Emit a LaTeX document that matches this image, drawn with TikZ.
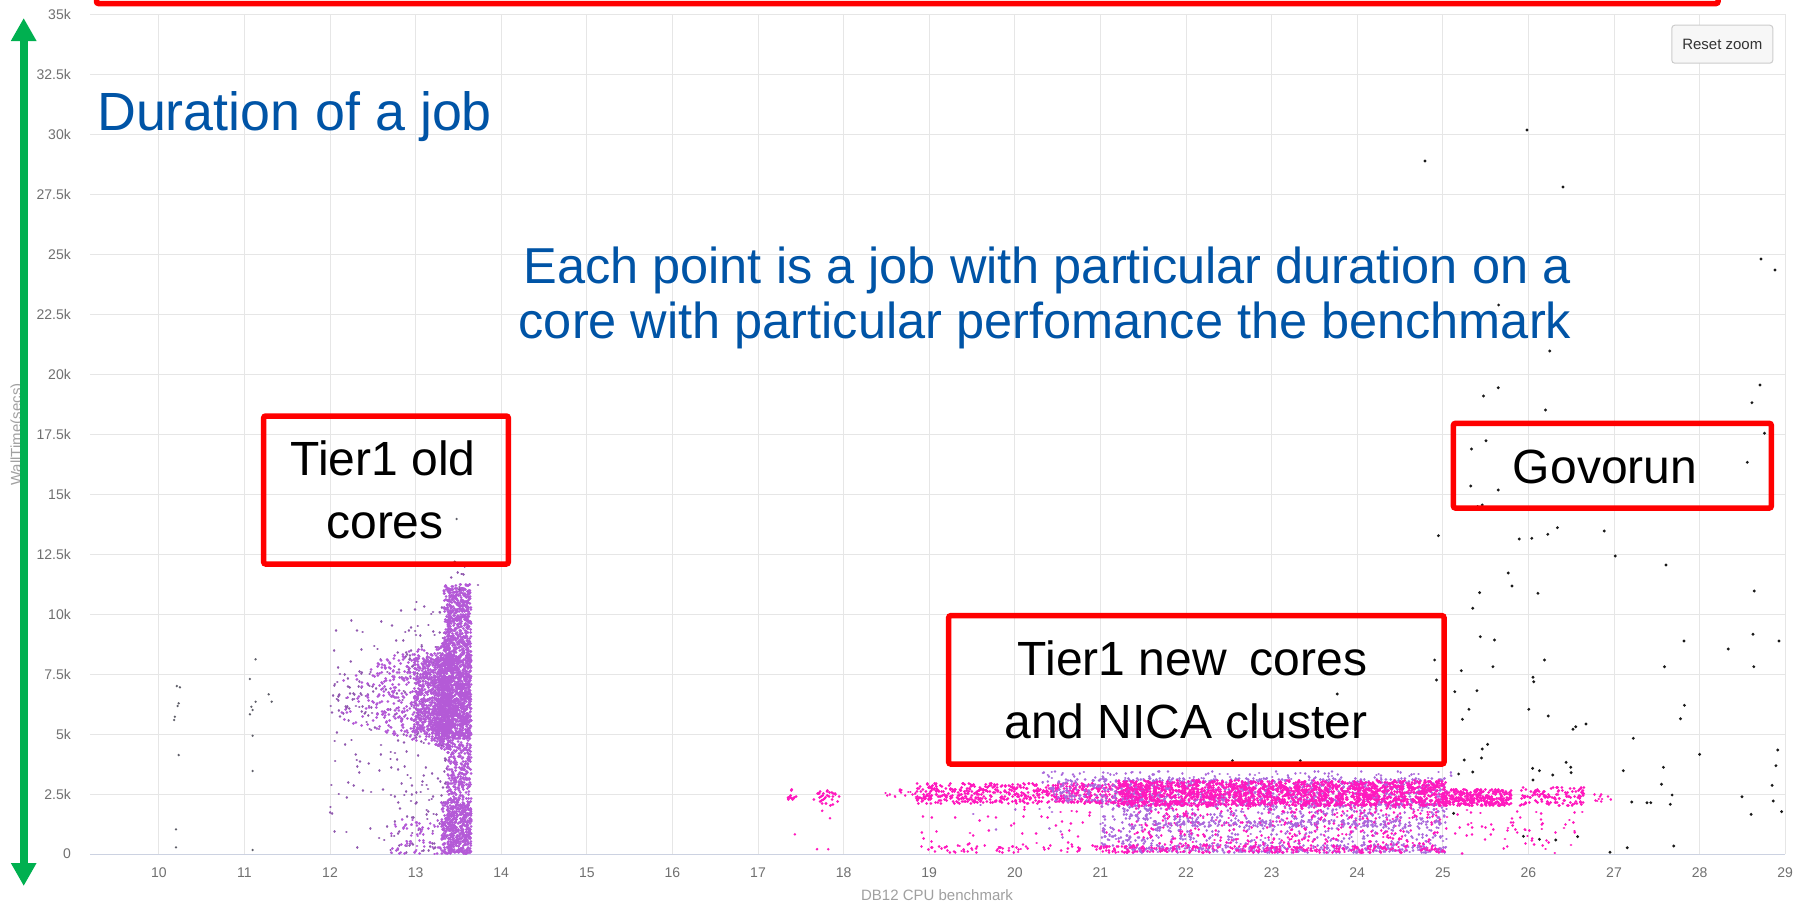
\documentclass[tikz,border=0pt]{standalone}
\usepackage{fontspec}
\setmainfont{Liberation Sans}
\usetikzlibrary{arrows.meta}

\definecolor{gridc}{RGB}{230,230,230}
\definecolor{axisc}{RGB}{204,210,225}
\definecolor{tickc}{RGB}{112,112,112}
\definecolor{titlec}{RGB}{160,160,160}
\definecolor{boxred}{RGB}{255,0,0}
\definecolor{arrowgreen}{RGB}{0,176,80}
\definecolor{noteblue}{RGB}{0,84,166}
\definecolor{oldpurp}{RGB}{180,90,215}
\definecolor{oldpurpdk}{RGB}{145,90,175}
\definecolor{newpink}{RGB}{255,25,190}
\definecolor{newlav}{RGB}{170,105,220}
\definecolor{govdot}{RGB}{25,25,25}
\definecolor{straydot}{RGB}{95,95,105}
\definecolor{btnfill}{RGB}{247,247,247}
\definecolor{btnline}{RGB}{204,204,204}
\definecolor{btntext}{RGB}{51,51,51}

\newcommand\pxfont[1]{\fontsize{#1}{#1}\selectfont}
% random cloud of round dots:
% colour, number of batches, points per batch, dot diameter, x expr, y expr
\newcommand\jobcloud[6]{%
  \foreach \j in {1,...,#2}{%
    \draw[#1, line width=#4, line cap=round]
      \foreach \i in {1,...,#3}{(#5,#6) -- ++(0.01pt,0pt)};}}

\tikzset{
  gridln/.style={draw=gridc, line width=1pt},
  ticklab/.style={text=tickc, font=\pxfont{14}, inner sep=0pt},
  axtitle/.style={text=titlec, font=\pxfont{15}, inner sep=0pt},
  redbox/.style={draw=boxred, line width=5.5pt, rounded corners=2pt, inner sep=0pt},
  boxtxt/.style={font=\pxfont{48}, inner sep=0pt, anchor=base, text=black},
  bluetxt/.style={text=noteblue, inner sep=0pt, anchor=base},
  btn/.style={fill=btnfill, draw=btnline, line width=1pt, rounded corners=3pt,
    text=btntext, font=\pxfont{15}, inner sep=0pt},
}

\begin{document}
\begin{tikzpicture}[x=1pt,y=-1pt]
\useasboundingbox (0,0) rectangle (1798,903);
\fill[white] (0,0) rectangle (1798,903);
\begin{scope}
\clip (0,0) rectangle (1798,903);

% ---- grid ----
\foreach \k in {1,...,14}
  \draw[gridln] (90,{854-60*\k}) -- (1785,{854-60*\k});
\foreach \b in {10,...,29}
  \draw[gridln] ({158.8+85.6*(\b-10)},14) -- ({158.8+85.6*(\b-10)},854);
\draw[axisc, line width=1pt] (90,854) -- (1785,854);

% ---- tick labels ----
\foreach \b in {10,...,29}
  \node[ticklab] (xt\b) at ({158.8+85.6*(\b-10)},872.6) {\b};
\foreach \k/\t in {0/0,1/2.5k,2/5k,3/7.5k,4/10k,5/12.5k,6/15k,7/17.5k,8/20k,
                   9/22.5k,10/25k,11/27.5k,12/30k,13/32.5k,14/35k}
  \node[ticklab, anchor=east] (yt\k) at (71,{854-60*\k}) {\t};

% ---- axis titles ----
\node[axtitle, anchor=base] (xtitle) at (937,900) {DB12 CPU benchmark};
\node[axtitle, rotate=90] (ytitle) at (17.5,434.5) {WallTime(secs)};

% ---- data points (benchmark, walltime in k) ----
\pgfmathsetseed{2718}
\begin{scope}[shift={(-697.2,854)}, x=85.6pt, y=24pt]
  % Tier1 old cores
  \jobcloud{oldpurpdk}{3}{40}{2.6pt}{12.0+1.4*rnd}{9.8*rnd}
  \jobcloud{oldpurpdk}{4}{40}{2.6pt}{12.7+0.7*rnd}{10.5*rnd}
  \jobcloud{oldpurpdk}{1}{45}{2.6pt}{12.0+0.5*rnd}{5.8+1.8*rnd}
  \jobcloud{oldpurp}{2}{35}{2.8pt}{12.7+0.65*rnd}{1.5*rnd}
  \foreach \i in {1,...,750} {
    \pgfmathsetmacro\u{rnd*rnd}
    \pgfmathsetmacro\bb{13.4-1.3*\u}
    \pgfmathsetmacro\vv{6.6+(rnd-0.5)*(4.6-2.6*\u)}
    \draw[oldpurp, line width=3pt, line cap=round] (\bb,\vv) -- ++(0.01pt,0pt);
  }
  \jobcloud{oldpurp}{10}{50}{3pt}{12.98+0.45*rnd}{5.0+3.2*rnd}
  \jobcloud{oldpurp}{22}{50}{3pt}{13.37+0.28*rnd}{11.25*rnd}
  \jobcloud{oldpurp}{6}{50}{3pt}{13.33+0.32*rnd}{8.0+3.2*rnd}
  \jobcloud{oldpurp}{8}{40}{3pt}{13.3+0.35*rnd}{2.2*rnd}
  \jobcloud{oldpurp}{15}{50}{3pt}{13.25+0.4*rnd}{4.8+3.4*rnd}
  \jobcloud{oldpurpdk}{1}{12}{2.6pt}{13.28+0.5*rnd}{11.0+1.2*rnd}

  % Tier1 new cores and NICA cluster
  \jobcloud{newpink}{1}{14}{3pt}{17.35+0.1*rnd}{2.25+0.45*rnd}
  \jobcloud{newpink}{1}{32}{3pt}{17.65+0.3*rnd}{2.0+0.65*rnd}
  \jobcloud{newpink}{1}{16}{2.6pt}{18.45+0.4*rnd}{2.3+0.4*rnd}
  \foreach \bx/\vy in {17.75/1.8, 17.84/1.49, 17.43/0.82, 17.69/0.2, 17.82/0.2}
    \fill[newpink] (\bx,\vy) circle (1.4pt);
  \jobcloud{newpink}{1}{50}{2.8pt}{18.9+2.6*rnd}{0.35+1.7*rnd}
  \jobcloud{newlav}{1}{12}{2.8pt}{19.5+1.9*rnd}{0.35+1.7*rnd}
  \jobcloud{newpink}{2}{35}{2.8pt}{18.9+2.5*rnd}{0.05+0.3*rnd}
  \jobcloud{newlav}{3}{40}{2.8pt}{21.0+0.6*rnd}{0.35+1.75*rnd}
  \jobcloud{newlav}{13}{40}{2.8pt}{21.5+3.55*rnd}{0.35+1.75*rnd}
  \jobcloud{newpink}{9}{40}{2.8pt}{21.4+3.65*rnd}{0.35+1.75*rnd}
  \jobcloud{newlav}{4}{40}{2.8pt}{21.6+3.4*rnd}{1.15+0.25*rnd}
  \jobcloud{newlav}{8}{40}{2.8pt}{21.3+3.75*rnd}{0.05+0.32*rnd}
  \jobcloud{newpink}{7}{40}{2.8pt}{21.0+4.05*rnd}{0.05+0.3*rnd}
  \jobcloud{newpink}{2}{30}{2.8pt}{25.05+1.6*rnd}{1.9*rnd}
  \jobcloud{newpink}{16}{40}{3pt}{18.85+2.7*rnd}{2.1+0.85*rnd}
  \jobcloud{newlav}{4}{40}{2.6pt}{20.3+4.8*rnd}{2.95+0.5*rnd}
  \jobcloud{newlav}{3}{40}{3pt}{20.4+1.0*rnd}{2.2+0.9*rnd}
  \jobcloud{newlav}{13}{50}{3pt}{21.3+3.75*rnd}{2.0+1.15*rnd}
  \jobcloud{newpink}{32}{50}{3.1pt}{21.2+3.85*rnd}{2.0+1.05*rnd}
  \jobcloud{newpink}{8}{40}{3pt}{25.0+0.8*rnd}{2.0+0.7*rnd}
  \jobcloud{newpink}{3}{40}{3pt}{25.9+0.75*rnd}{2.0+0.8*rnd}
  \jobcloud{newpink}{1}{10}{2.8pt}{26.75+0.25*rnd}{2.1+0.45*rnd}
\end{scope}

% stray jobs on slow cores
\foreach \px/\py in {176.8/686, 179.9/687.3, 178.7/703.3, 177.6/706, 174.9/716.7,
    174.1/720, 178.7/755, 176/829.3, 176/847.3, 255.6/659.3, 249.9/679,
    251.4/706.7, 252.6/710, 249.9/714.3, 255.6/701.7, 252.6/735.7, 252.6/771,
    252.6/850, 268.7/694.3, 271.7/701.7, 456.6/519, 454.7/561.7}
  \fill[straydot] (\px,\py) circle (1.3pt);

% Govorun jobs
\foreach \px/\py in {1425/161, 1527/130, 1563/187, 1761/259, 1775/270,
    1498.6/305, 1549.7/351, 1498.2/387.7, 1483.4/396, 1545.5/410, 1759.9/385,
    1751.9/402.7, 1764.5/433.3, 1747.3/462.3, 1486/440.7, 1471.5/449, 1470.8/486,
    1498.2/490, 1477.6/506.7, 1482.2/505, 1438.4/535.7, 1519.2/539, 1531.8/538.3,
    1547.8/534.3, 1557.4/527.7, 1604.3/531, 1615.3/556, 1666/565, 1508.2/573,
    1512/586, 1479.6/592.7, 1537.9/593.3, 1754.2/591,
    1472.7/608.3, 1480.3/636.7, 1494.4/640, 1434.6/660, 1461.3/670.7, 1492.9/666.7,
    1544.4/660, 1436.5/680, 1454.8/691.7, 1476.9/690.7, 1533/677.3, 1533.7/681.7,
    1468.9/709.3, 1462.4/719.3, 1528.8/709.3, 1548.2/716, 1575.7/726.7, 1573/729.3,
    1586/724, 1337.3/694, 1232.4/760.7, 1300.3/760.7, 1633.3/738.3, 1684/641,
    1664.5/666.7, 1684.4/705.3, 1680.5/718.7, 1753/634.3, 1728.2/649, 1753.8/666.7,
    1779/641, 1482.2/749, 1487.6/744.3, 1481.5/758, 1464.3/760, 1472.7/772,
    1458.6/774, 1566.1/762.3, 1570.7/767.3, 1571.1/772.7, 1539.4/770.7, 1552.8/775,
    1532.6/768.3, 1533/780, 1699.6/754.3, 1623.3/770.7, 1663.4/767.3, 1661.5/784.3,
    1672.1/795, 1670.3/804.3, 1631.7/802, 1647/802.7, 1650.8/802.7, 1777.8/750,
    1775.9/765.7, 1772.1/785.3, 1773.2/801, 1781.6/811.7, 1751.1/814.3, 1742/796.7,
    1673.7/846, 1627.2/847.7, 1610/852.3, 1453.6/813.3, 1539.4/839.3, 1555.8/840,
    1523.4/836.3, 1577.6/836.7}
  \fill[govdot] (\px,\py) circle (1.6pt);

% ---- scale arrow ----
\coordinate (gtop) at (23.7,18);
\coordinate (gbot) at (23.7,886);
\draw[arrowgreen, line width=7.6pt,
  {Triangle[width=24pt,length=23pt]}-{Triangle[width=24pt,length=23pt]}] (gbot) -- (gtop);

% ---- notes ----
\node[bluetxt, anchor=base west, font=\pxfont{53.8}] (dur) at (97,130) {Duration of a job};
\node[bluetxt, font=\pxfont{50.5}] (each1) at (1047,283.3)
  {Each point is a job with particular duration on a};
\node[bluetxt, font=\pxfont{50.5}] (each2) at (1045,338.3)
  {core with particular perfomance the benchmark};

% ---- group boxes ----
\node[redbox, minimum width=1621.5pt, minimum height=47pt] (topbox) at (907.25,-20) {};
\node[redbox, minimum width=244.6pt, minimum height=148pt] (oldbox) at (386,490) {};
\node[boxtxt] (old1) at (383,475) {Tier1 old};
\node[boxtxt] (old2) at (385,538.3) {cores};
\node[redbox, minimum width=317.9pt, minimum height=84.6pt] (govbox) at (1612.35,465.7) {};
\node[boxtxt] (gov) at (1605,483.3) {Govorun};
\node[redbox, minimum width=495.3pt, minimum height=148.3pt] (newbox) at (1196.35,689.85) {};
\node[boxtxt] (new1) at (1192.5,675) {Tier1 new\hspace{0.48em}cores};
\node[boxtxt] (new2) at (1186,738.3) {and NICA cluster};

% ---- chart button ----
\node[btn, minimum width=101pt, minimum height=38pt] (reset) at (1722.3,44.2) {Reset zoom};
\end{scope}
\end{tikzpicture}
\end{document}
